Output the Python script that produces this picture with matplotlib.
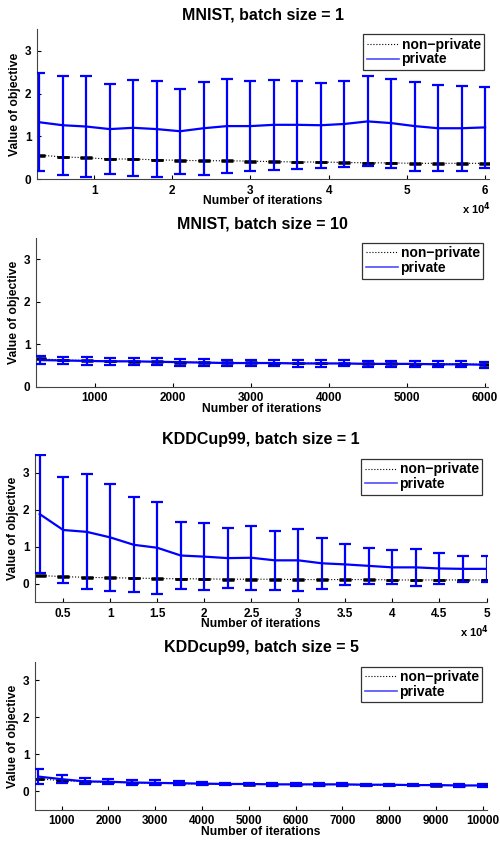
import matplotlib
matplotlib.use("Agg")
import matplotlib.pyplot as plt
from matplotlib.ticker import FuncFormatter

plt.rcParams['font.family'] = ['Liberation Sans', 'DejaVu Sans']
plt.rcParams['font.weight'] = 'bold'

# MNIST, batch size = 1
mnist1_iters = [3000, 6000, 9000, 12000, 15000, 18000, 21000, 24000, 27000, 30000,
                33000, 36000, 39000, 42000, 45000, 48000, 51000, 54000, 57000, 60000]
mnist1_priv = [1.33, 1.26, 1.23, 1.17, 1.20, 1.17, 1.12, 1.19, 1.24, 1.24,
               1.27, 1.27, 1.26, 1.29, 1.35, 1.31, 1.24, 1.19, 1.19, 1.21]
mnist1_priv_std = [1.14, 1.16, 1.19, 1.06, 1.12, 1.12, 0.99, 1.09, 1.09, 1.05,
                   1.05, 1.03, 0.99, 1.00, 1.05, 1.04, 1.04, 1.01, 0.99, 0.95]
mnist1_nonpriv = [0.56, 0.52, 0.50, 0.47, 0.47, 0.45, 0.44, 0.43, 0.43, 0.42,
                  0.41, 0.40, 0.40, 0.39, 0.38, 0.38, 0.37, 0.37, 0.37, 0.37]

# MNIST, batch size = 10
mnist10_iters = [300, 600, 900, 1200, 1500, 1800, 2100, 2400, 2700, 3000,
                 3300, 3600, 3900, 4200, 4500, 4800, 5100, 5400, 5700, 6000]
mnist10_priv = [0.63, 0.62, 0.61, 0.60, 0.60, 0.59, 0.58, 0.57, 0.56, 0.56,
                0.56, 0.55, 0.55, 0.55, 0.54, 0.54, 0.54, 0.53, 0.53, 0.52]
mnist10_priv_std = [0.09, 0.085, 0.085, 0.08, 0.08, 0.08, 0.08, 0.075, 0.075, 0.075,
                    0.075, 0.075, 0.075, 0.07, 0.07, 0.07, 0.07, 0.07, 0.07, 0.07]
mnist10_nonpriv = [0.66, 0.63, 0.62, 0.61, 0.60, 0.59, 0.58, 0.58, 0.57, 0.57,
                   0.56, 0.56, 0.56, 0.55, 0.55, 0.55, 0.54, 0.54, 0.54, 0.53]

# KDDCup99, batch size = 1
kdd1_iters = [2500, 5000, 7500, 10000, 12500, 15000, 17500, 20000, 22500, 25000,
              27500, 30000, 32500, 35000, 37500, 40000, 42500, 45000, 47500, 50000]
kdd1_priv = [1.88, 1.45, 1.40, 1.25, 1.05, 0.97, 0.76, 0.73, 0.69, 0.70,
             0.63, 0.63, 0.55, 0.52, 0.48, 0.44, 0.44, 0.41, 0.40, 0.40]
kdd1_priv_std = [1.60, 1.44, 1.55, 1.45, 1.28, 1.25, 0.90, 0.91, 0.82, 0.87,
                 0.80, 0.84, 0.69, 0.56, 0.48, 0.46, 0.49, 0.42, 0.36, 0.35]
kdd1_nonpriv = [0.22, 0.19, 0.17, 0.16, 0.15, 0.14, 0.13, 0.13, 0.12, 0.12,
                0.12, 0.11, 0.11, 0.11, 0.11, 0.10, 0.10, 0.10, 0.10, 0.10]

# KDDcup99, batch size = 5
kdd5_iters = [500, 1000, 1500, 2000, 2500, 3000, 3500, 4000, 4500, 5000,
              5500, 6000, 6500, 7000, 7500, 8000, 8500, 9000, 9500, 10000]
kdd5_priv = [0.40, 0.33, 0.27, 0.26, 0.24, 0.23, 0.22, 0.21, 0.20, 0.20,
             0.19, 0.19, 0.19, 0.19, 0.18, 0.18, 0.17, 0.17, 0.16, 0.16]
kdd5_priv_std = [0.20, 0.11, 0.08, 0.07, 0.07, 0.07, 0.06, 0.05, 0.04, 0.04,
                 0.04, 0.04, 0.04, 0.04, 0.03, 0.03, 0.03, 0.03, 0.03, 0.03]
kdd5_nonpriv = [0.34, 0.29, 0.26, 0.25, 0.23, 0.22, 0.21, 0.20, 0.20, 0.19,
                0.19, 0.18, 0.18, 0.18, 0.17, 0.17, 0.17, 0.16, 0.16, 0.16]

panels = [
    ("MNIST, batch size = 1", mnist1_iters, mnist1_priv, mnist1_priv_std, mnist1_nonpriv,
     (2700, 60500), (0, 3.5), True, [10000, 20000, 30000, 40000, 50000, 60000]),
    ("MNIST, batch size = 10", mnist10_iters, mnist10_priv, mnist10_priv_std, mnist10_nonpriv,
     (250, 6040), (0, 3.5), False, [1000, 2000, 3000, 4000, 5000, 6000]),
    ("KDDCup99, batch size = 1", kdd1_iters, kdd1_priv, kdd1_priv_std, kdd1_nonpriv,
     (2000, 50050), (-0.5, 3.5), True,
     [5000, 10000, 15000, 20000, 25000, 30000, 35000, 40000, 45000, 50000]),
    ("KDDcup99, batch size = 5", kdd5_iters, kdd5_priv, kdd5_priv_std, kdd5_nonpriv,
     (430, 10090), (-0.5, 3.5), False,
     [1000, 2000, 3000, 4000, 5000, 6000, 7000, 8000, 9000, 10000]),
]

# axes boxes in figure fractions (left, bottom, width, height)
boxes = [(0.074, 0.787, 0.904, 0.178),
         (0.072, 0.540, 0.904, 0.177),
         (0.070, 0.284, 0.904, 0.176),
         (0.070, 0.037, 0.904, 0.176)]

fig = plt.figure(figsize=(5.0, 8.41), dpi=100)

for (title, x, priv, std, nonpriv, xlim, ylim, sci, xticks), box in zip(panels, boxes):
    ax = fig.add_axes(box)
    ax.errorbar(x, nonpriv, yerr=[0.008] * len(x), color='black', linestyle=':',
                linewidth=0.8, elinewidth=1.5, capsize=4, capthick=1.8, zorder=2)
    ax.errorbar(x, priv, yerr=std, color=(0, 0, 1), linestyle='-', linewidth=1.6,
                elinewidth=1.6, capsize=4, capthick=1.6, zorder=3)
    ax.plot([], [], color='black', linestyle=':', linewidth=0.8, label='non\u2212private')
    ax.plot([], [], color=(0.3, 0.3, 1), linestyle='-', linewidth=1.2, label='private')
    ax.set_xlim(xlim)
    ax.set_ylim(ylim)
    ax.set_xticks(xticks)
    ax.set_yticks([0, 1, 2, 3])
    if sci:
        ax.xaxis.set_major_formatter(FuncFormatter(lambda v, p: f"{v / 1e4:g}"))
        ax.text(1.005, -0.145, r"x 10$^{\mathbf{4}}$", transform=ax.transAxes,
                ha='right', va='top', fontsize=8, fontweight='bold')
    ax.tick_params(direction='in', length=3, labelsize=8.5, width=0.8, pad=4)
    for lab in ax.get_xticklabels() + ax.get_yticklabels():
        lab.set_fontweight('bold')
    ax.spines['top'].set_visible(False)
    ax.spines['right'].set_visible(False)
    ax.spines['left'].set_color('#444444')
    ax.spines['bottom'].set_color('#444444')
    ax.set_title(title, fontsize=11.5, fontweight='bold', pad=7)
    ax.set_xlabel("Number of iterations", fontsize=8.7, fontweight='bold', labelpad=-1)
    ax.set_ylabel("Value of objective", fontsize=8.7, fontweight='bold', labelpad=3)
    leg = ax.legend(loc='upper right', fontsize=10, frameon=True, fancybox=False,
                    edgecolor='black', handlelength=2.3, handletextpad=0.2,
                    borderaxespad=0.35, borderpad=0.25, labelspacing=0.05)
    leg.get_frame().set_linewidth(0.9)
    for t in leg.get_texts():
        t.set_fontweight('bold')

fig.savefig("out.png", dpi=100)
